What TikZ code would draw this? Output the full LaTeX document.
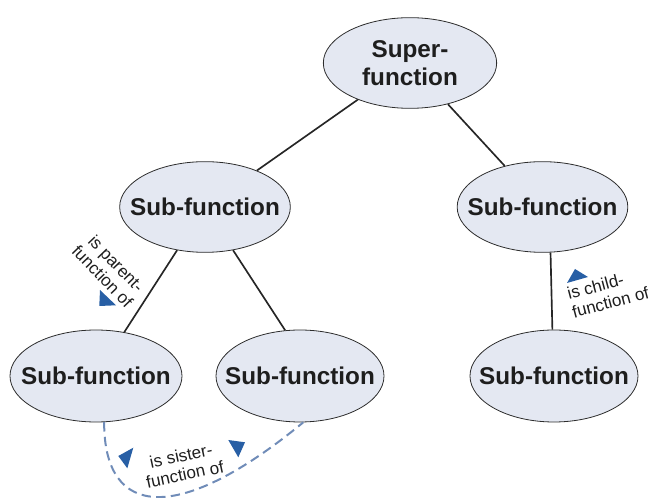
\documentclass[tikz,border=0pt]{standalone}
\usepackage{fontspec}
\setmainfont{Liberation Sans}
\usetikzlibrary{shapes.geometric}
\definecolor{nodefill}{RGB}{228,232,242}
\definecolor{nodeline}{RGB}{45,45,45}
\definecolor{relline}{RGB}{112,140,184}
\definecolor{markblue}{RGB}{40,95,165}
\definecolor{textdark}{RGB}{30,30,30}
\begin{document}
\begin{tikzpicture}[x=0.75pt,y=-0.75pt,
  fn/.style={ellipse,draw=nodeline,fill=nodefill,line width=0.6pt,
    inner xsep=-14pt,inner ysep=0pt,
    minimum height=68pt,text=textdark,align=center,
    font=\fontsize{18.2}{21}\selectfont\bfseries},
  link/.style={line width=1.25pt,draw=black!85},
  rel/.style={inner sep=0pt,text=textdark,font=\fontsize{12.8}{14.2}\selectfont},
  sisterline/.style={draw=relline,line width=1.5pt,dash pattern=on 7pt off 4pt},
  tri/.style={fill=markblue}]
\useasboundingbox (0,0) rectangle (650,498);

% function hierarchy
\node[fn,minimum width=130pt] (sup) at (410,63) {Super-\\function};
\node[fn,minimum width=128pt] (ml) at (205,207) {Sub-function};
\node[fn,minimum width=128pt] (mr) at (542.5,207) {Sub-function};
\node[fn,minimum width=129pt,minimum height=69pt] (bl) at (96,376) {Sub-function};
\node[fn,minimum width=126pt,minimum height=69pt] (bm) at (300,376) {Sub-function};
\node[fn,minimum width=126pt,minimum height=69pt] (br) at (554,376) {Sub-function};

\draw[link] (sup) -- (ml);
\draw[link] (sup) -- (mr);
\draw[link] (ml) -- (bl);
\draw[link] (ml.-57) -- (bm.108);
\draw[link] (mr.-80) -- (br.92);

% sister relation
\draw[sisterline] (bl.-80) .. controls (104,520) and (180,524) .. (bm.-86);

% relation labels
\node[rel,rotate=-46,align=center] (lparent) at (109.5,270) {is parent-\\function of};
\node[rel,rotate=15,align=left] (lchild) at (608,293) {is child-\\function of};
\node[rel,rotate=12,align=center] (lsister) at (183,465) {is sister-\\function of};

% direction markers
\fill[tri] (100,290) -- (116,305.3) -- (99.3,306) -- cycle;
\fill[tri] (567,283) -- (575,269) -- (588,277) -- cycle;
\fill[tri] (133.3,447.7) -- (118.3,456) -- (127.3,468.3) -- cycle;
\fill[tri] (228.3,440) -- (245,442.3) -- (238.3,457.3) -- cycle;
\end{tikzpicture}
\end{document}
